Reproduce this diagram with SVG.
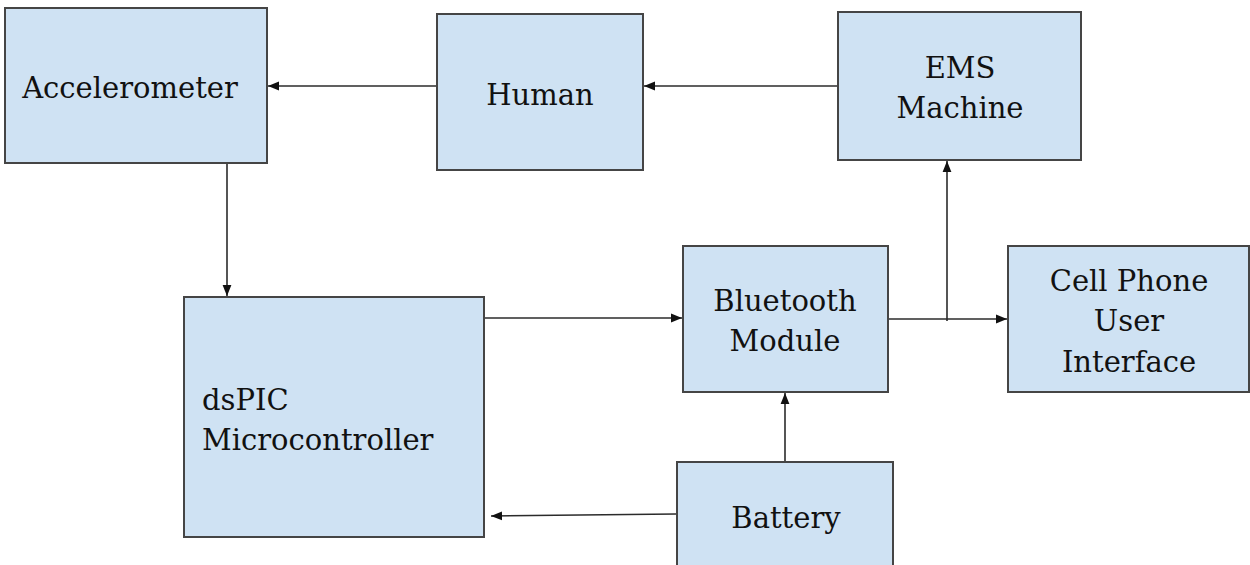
<svg xmlns="http://www.w3.org/2000/svg" width="1250" height="565" viewBox="0 0 1250 565">
  <style>
    .box { fill: #cfe2f3; stroke: #454545; stroke-width: 2; }
    .lbl { font-family: "DejaVu Serif", "Liberation Serif", serif; font-size: 29px; fill: #111111; text-anchor: middle; }
    .left { text-anchor: start; }
    .wire { fill: none; stroke: #2b2b2b; stroke-width: 1.6; }
  </style>
  <defs>
    <marker id="arrow" markerUnits="userSpaceOnUse" markerWidth="11" markerHeight="11" viewBox="0 0 10 10" refX="10" refY="5" orient="auto">
      <path d="M0,1 L10,5 L0,9 Z" fill="#111111"/>
    </marker>
  </defs>
  <rect width="1250" height="565" fill="#ffffff"/>

  <g id="connectors">
    <path class="wire" d="M437,86 H268" marker-end="url(#arrow)"/>
    <path class="wire" d="M838,86 H644" marker-end="url(#arrow)"/>
    <path class="wire" d="M227,164 V296" marker-end="url(#arrow)"/>
    <path class="wire" d="M485,318 H682" marker-end="url(#arrow)"/>
    <path class="wire" d="M889,319 H1007" marker-end="url(#arrow)"/>
    <path class="wire" d="M947,321 V161" marker-end="url(#arrow)"/>
    <path class="wire" d="M785,461 V393" marker-end="url(#arrow)"/>
    <path class="wire" d="M676,514 L491,516" marker-end="url(#arrow)"/>
  </g>

  <g id="accelerometer">
    <rect class="box" x="5" y="8" width="262" height="155"/>
    <text class="lbl" x="130" y="98">Accelerometer</text>
  </g>

  <g id="human">
    <rect class="box" x="437" y="14" width="206" height="156"/>
    <text class="lbl" x="540" y="105">Human</text>
  </g>

  <g id="ems-machine">
    <rect class="box" x="838" y="12" width="243" height="148"/>
    <text class="lbl" x="960" y="78">EMS</text>
    <text class="lbl" x="960" y="118">Machine</text>
  </g>

  <g id="dspic">
    <rect class="box" x="184" y="297" width="300" height="240"/>
    <text class="lbl left" x="202" y="410">dsPIC</text>
    <text class="lbl left" x="202" y="450">Microcontroller</text>
  </g>

  <g id="bluetooth">
    <rect class="box" x="683" y="246" width="205" height="146"/>
    <text class="lbl" x="785" y="311">Bluetooth</text>
    <text class="lbl" x="785" y="351">Module</text>
  </g>

  <g id="cell-phone">
    <rect class="box" x="1008" y="246" width="241" height="146"/>
    <text class="lbl" x="1129" y="291">Cell Phone</text>
    <text class="lbl" x="1129" y="331">User</text>
    <text class="lbl" x="1129" y="372">Interface</text>
  </g>

  <g id="battery">
    <rect class="box" x="677" y="462" width="216" height="110"/>
    <text class="lbl" x="786" y="528">Battery</text>
  </g>
</svg>
